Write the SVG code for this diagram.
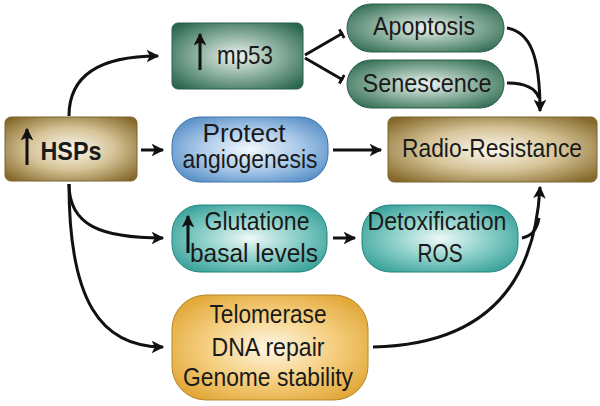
<svg xmlns="http://www.w3.org/2000/svg" width="600" height="406" viewBox="0 0 600 406">
<defs>
<style>
.t{font-family:"Liberation Sans",Arial,sans-serif;font-size:26px;fill:#1a1a1a;text-anchor:middle}
.b{font-weight:bold}
.c{fill:none;stroke:#111;stroke-width:3}
.up{stroke:#111;stroke-width:3;fill:none}
</style>
<radialGradient id="gGold" cx="50%" cy="50%" r="65%"><stop offset="0" stop-color="#fbf8ef"/><stop offset="0.5" stop-color="#d6c498"/><stop offset="1" stop-color="#85692a"/></radialGradient>
<radialGradient id="gGreen" cx="50%" cy="50%" r="65%"><stop offset="0" stop-color="#eef4f1"/><stop offset="0.5" stop-color="#88ae9c"/><stop offset="1" stop-color="#2a664c"/></radialGradient>
<radialGradient id="gBlue" cx="50%" cy="50%" r="65%"><stop offset="0" stop-color="#f2f7fc"/><stop offset="0.5" stop-color="#a8c8e8"/><stop offset="1" stop-color="#4a86c2"/></radialGradient>
<radialGradient id="gTeal" cx="50%" cy="50%" r="65%"><stop offset="0" stop-color="#eef9f8"/><stop offset="0.5" stop-color="#86cdc6"/><stop offset="1" stop-color="#2b9a92"/></radialGradient>
<radialGradient id="gOrange" cx="50%" cy="50%" r="65%"><stop offset="0" stop-color="#fef7e6"/><stop offset="0.5" stop-color="#f5cf80"/><stop offset="1" stop-color="#dea12c"/></radialGradient>
<marker id="ah" viewBox="0 0 10 10" refX="9" refY="5" markerWidth="5.5" markerHeight="4.2" orient="auto" markerUnits="strokeWidth"><path d="M0,0 L10,5 L0,10 L2.5,5 Z" fill="#111"/></marker>
<marker id="tb" viewBox="0 0 4 10" refX="3" refY="5" markerWidth="1.3" markerHeight="4" orient="auto" markerUnits="strokeWidth"><rect x="0" y="0" width="3" height="10" fill="#111"/></marker>
</defs>
<rect width="600" height="406" fill="#fff"/>

<g id="connectors">
<path class="c" d="M69,116 C69,75 100,56 158,56" marker-end="url(#ah)"/>
<path class="c" d="M141,150 L163,150" marker-end="url(#ah)"/>
<path class="c" d="M333,150 L381,150" marker-end="url(#ah)"/>
<path class="c" d="M69,184 C69,225 100,238 163,238" marker-end="url(#ah)"/>
<path class="c" d="M69,184 C69,300 100,347 163,347" marker-end="url(#ah)"/>
<path class="c" d="M333,238 L355,238" marker-end="url(#ah)"/>
<path class="c" d="M305,55 L343,33" marker-end="url(#tb)"/>
<path class="c" d="M305,58 L343,80" marker-end="url(#tb)"/>
<path class="c" d="M507,28 C530,32 540,55 540,111" marker-end="url(#ah)"/>
<path class="c" d="M507,83 C522,83 535,86 539,98"/>
<path class="c" d="M373,347 C470,345 534,300 540,187" marker-end="url(#ah)"/>
<path class="c" d="M522,238 C532,236 537,230 539,218"/>
</g>

<g id="hsps">
<rect x="5" y="117" width="132" height="64" rx="6" fill="url(#gGold)" stroke="#7a6330" stroke-width="1"/>
<line class="up" x1="27" y1="165" x2="27" y2="129" marker-end="url(#ah)"/>
<text class="t b" x="71" y="160" textLength="61" lengthAdjust="spacingAndGlyphs">HSPs</text>
</g>

<g id="mp53">
<rect x="172" y="23" width="131" height="66" rx="6" fill="url(#gGreen)" stroke="#2a5e47" stroke-width="1"/>
<line class="up" x1="200" y1="70" x2="200" y2="34" marker-end="url(#ah)"/>
<text class="t" x="245" y="64" textLength="56" lengthAdjust="spacingAndGlyphs">mp53</text>
</g>

<g id="apoptosis">
<rect x="347" y="4" width="157" height="48" rx="24" fill="url(#gGreen)" stroke="#2a5e47" stroke-width="1"/>
<text class="t" x="424" y="35" textLength="102" lengthAdjust="spacingAndGlyphs">Apoptosis</text>
</g>

<g id="senescence">
<rect x="347" y="60" width="157" height="48" rx="24" fill="url(#gGreen)" stroke="#2a5e47" stroke-width="1"/>
<text class="t" x="427" y="92" textLength="129" lengthAdjust="spacingAndGlyphs">Senescence</text>
</g>

<g id="protect">
<rect x="172" y="117" width="156" height="65" rx="28" fill="url(#gBlue)" stroke="#3d74aa" stroke-width="1"/>
<text class="t" x="244" y="142" textLength="83" lengthAdjust="spacingAndGlyphs">Protect</text>
<text class="t" x="250" y="168" textLength="135" lengthAdjust="spacingAndGlyphs">angiogenesis</text>
</g>

<g id="radio">
<rect x="388" y="117" width="209" height="65" rx="6" fill="url(#gGold)" stroke="#7a6330" stroke-width="1"/>
<text class="t" x="492" y="157" textLength="180" lengthAdjust="spacingAndGlyphs">Radio-Resistance</text>
</g>

<g id="glutatione">
<rect x="172" y="205" width="155" height="67" rx="28" fill="url(#gTeal)" stroke="#23847d" stroke-width="1"/>
<line class="up" x1="188" y1="253" x2="188" y2="216" marker-end="url(#ah)"/>
<text class="t" x="257" y="230" textLength="105" lengthAdjust="spacingAndGlyphs">Glutatione</text>
<text class="t" x="254" y="262" textLength="128" lengthAdjust="spacingAndGlyphs">basal levels</text>
</g>

<g id="detox">
<rect x="362" y="205" width="156" height="67" rx="28" fill="url(#gTeal)" stroke="#23847d" stroke-width="1"/>
<text class="t" x="437" y="230" textLength="139" lengthAdjust="spacingAndGlyphs">Detoxification</text>
<text class="t" x="440" y="262" textLength="45" lengthAdjust="spacingAndGlyphs">ROS</text>
</g>

<g id="telomerase">
<rect x="172" y="295" width="196" height="105" rx="34" fill="url(#gOrange)" stroke="#b8862a" stroke-width="1"/>
<text class="t" x="268" y="323" textLength="117" lengthAdjust="spacingAndGlyphs">Telomerase</text>
<text class="t" x="268" y="356" textLength="113" lengthAdjust="spacingAndGlyphs">DNA repair</text>
<text class="t" x="268" y="386" textLength="170" lengthAdjust="spacingAndGlyphs">Genome stability</text>
</g>
</svg>
